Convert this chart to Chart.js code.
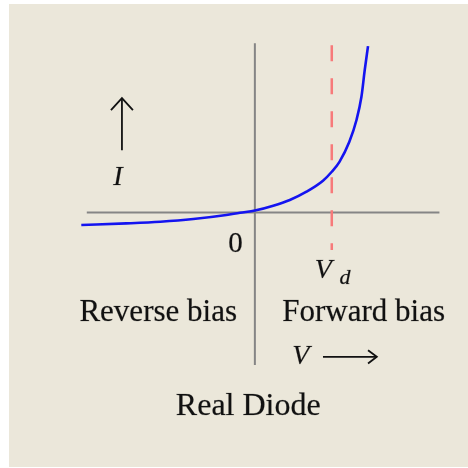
<!DOCTYPE html>
<html lang="en">
<head>
  <meta charset="UTF-8">
  <title>Real Diode</title>
  <script src="https://cdn.jsdelivr.net/npm/chart.js"></script>
  <style>
    body {
      margin: 0;
      background: #fff;
    }
    canvas {
      display: block;
    }
  </style>
</head>
<body>
  <canvas id="diodeChart" width="468" height="468"></canvas>

  <script>
    // I-V curve of a real diode (V in volts, I in mA)
    const curveV = [-1.58, -1.17, -0.86, -0.56, -0.26, -0.136, 0, 0.167, 0.318, 0.47, 0.62, 0.70, 0.77, 0.86, 0.925, 0.97, 1.0, 1.03];
    const curveI = [-0.76, -0.66, -0.56, -0.40, -0.16, -0.02, 0.11, 0.40, 0.75, 1.25, 1.91, 2.45, 3.05, 4.26, 5.57, 6.97, 8.58, 10.02];

    // knee voltage
    const vd = 0.7;
    const vdLineI = [10.08, -2.27];

    // axis lines through the origin
    const hAxisV = [-1.53, 1.68];
    const vAxisI = [10.2, -9.2];

    // arrows next to the axis labels
    const upArrowV = [-1.21, -1.21];
    const upArrowI = [3.75, 6.89];
    const upHeadV = [-1.31, -1.21, -1.11];
    const upHeadI = [6.16, 6.89, 6.16];
    const rightArrowV = [0.62, 1.11];
    const rightArrowI = [-8.7, -8.7];
    const rightHeadV = [1.03, 1.11, 1.03];
    const rightHeadI = [-8.3, -8.7, -9.1];

    const toPoints = (xs, ys) => xs.map((x, i) => ({ x: x, y: ys[i] }));

    // text labels, anchored in data units
    const notes = [
      { text: 'Reverse bias', x: -0.88, y: -6.53, font: '31px "Liberation Serif"', align: 'center' },
      { text: 'Forward bias', x: 0.99, y: -6.53, font: '31px "Liberation Serif"', align: 'center' },
      { text: 'Real Diode', x: -0.06, y: -12.2, font: '32px "Liberation Serif"', align: 'center' },
      { text: '0', x: -0.11, y: -2.4, font: '29px "Liberation Serif"', align: 'right' },
      { text: 'V', x: 0.545, y: -3.95, font: 'italic 28px "Liberation Serif"', align: 'left' },
      { text: 'd', x: 0.77, y: -4.3, font: 'italic 22px "Liberation Serif"', align: 'left' },
      { text: 'V', x: 0.34, y: -9.15, font: 'italic 28px "Liberation Serif"', align: 'left' },
      { text: 'I', x: -1.29, y: 1.65, font: 'italic 28px "Liberation Serif"', align: 'left' }
    ];

    const panelPlugin = {
      id: 'panel',
      beforeDraw(chart) {
        const c = chart.ctx;
        c.save();
        c.fillStyle = '#fff';
        c.fillRect(0, 0, chart.width, chart.height);
        c.fillStyle = '#ebe7da';
        c.fillRect(9, 4, chart.width - 9, chart.height - 5);
        c.restore();
      }
    };

    const notesPlugin = {
      id: 'notes',
      afterDatasetsDraw(chart) {
        const c = chart.ctx;
        const xs = chart.scales.x, ys = chart.scales.y;
        c.save();
        c.fillStyle = '#111';
        c.strokeStyle = 'rgba(17,17,17,0.35)';
        c.lineWidth = 0.6;
        c.textBaseline = 'alphabetic';
        notes.forEach(n => {
          c.font = n.font;
          c.textAlign = n.align;
          const px = xs.getPixelForValue(n.x), py = ys.getPixelForValue(n.y);
          c.fillText(n.text, px, py);
          c.strokeText(n.text, px, py);
        });
        c.restore();
      }
    };

    const axisStyle = { borderColor: '#858585', borderWidth: 2, pointRadius: 0, showLine: true, order: 3 };
    const arrowStyle = { borderColor: '#111', borderWidth: 1.8, pointRadius: 0, showLine: true, order: 3 };

    new Chart(document.getElementById('diodeChart'), {
      type: 'scatter',
      data: {
        datasets: [
          {
            label: 'I(V)',
            data: toPoints(curveV, curveI),
            borderColor: '#1414f0',
            borderWidth: 2.6,
            pointRadius: 0,
            showLine: true,
            cubicInterpolationMode: 'monotone',
            order: 1
          },
          {
            label: 'Vd',
            data: toPoints([vd, vd], vdLineI),
            borderColor: '#f77a7a',
            borderWidth: 2.5,
            borderDash: [16, 17],
            pointRadius: 0,
            showLine: true,
            order: 2
          },
          { label: 'V axis', data: toPoints(hAxisV, [0, 0]), ...axisStyle },
          { label: 'I axis', data: toPoints([0, 0], vAxisI), ...axisStyle },
          { label: 'up', data: toPoints(upArrowV, upArrowI), ...arrowStyle },
          { label: 'up head', data: toPoints(upHeadV, upHeadI), ...arrowStyle },
          { label: 'right', data: toPoints(rightArrowV, rightArrowI), ...arrowStyle },
          { label: 'right head', data: toPoints(rightHeadV, rightHeadI), ...arrowStyle }
        ]
      },
      options: {
        responsive: false,
        animation: false,
        layout: { padding: 0 },
        scales: {
          x: { type: 'linear', min: -2.32, max: 1.94, display: false },
          y: { type: 'linear', min: -15.4, max: 12.8, display: false }
        },
        plugins: {
          legend: { display: false },
          tooltip: { enabled: false }
        }
      },
      plugins: [panelPlugin, notesPlugin]
    });
  </script>
</body>
</html>
